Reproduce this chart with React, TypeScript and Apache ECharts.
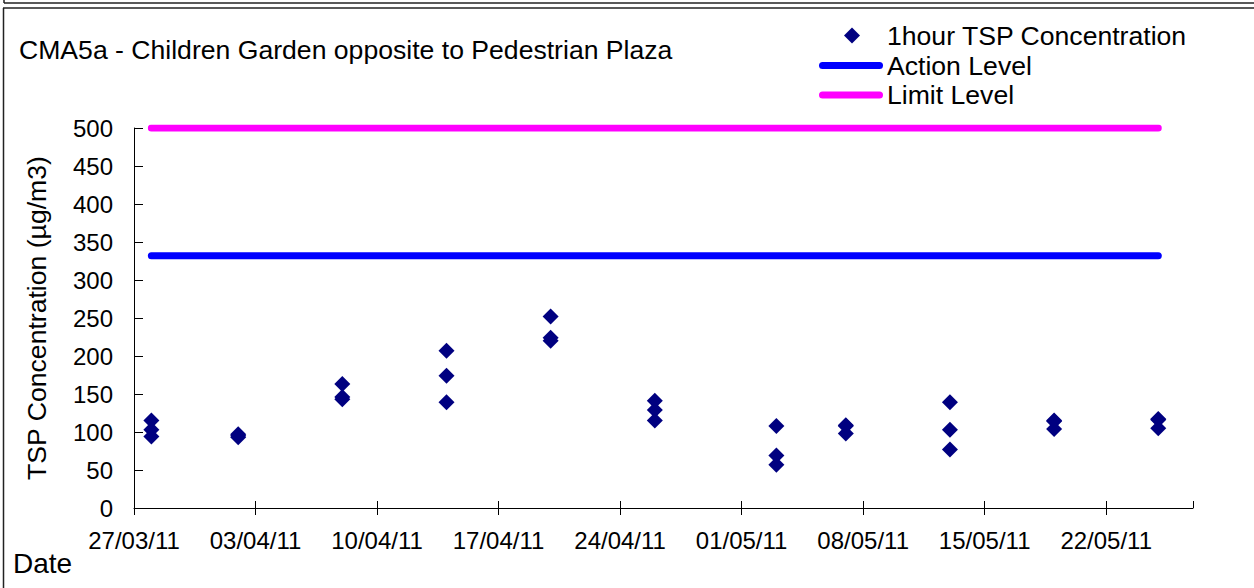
import React, { useEffect, useRef } from "react";
import * as echarts from "echarts";

const baseDate = "2011-03-27";
const sampleDates = [
  "2011-03-28", "2011-03-28", "2011-03-28",
  "2011-04-02", "2011-04-02", "2011-04-02",
  "2011-04-08", "2011-04-08", "2011-04-08",
  "2011-04-14", "2011-04-14", "2011-04-14",
  "2011-04-20", "2011-04-20", "2011-04-20",
  "2011-04-26", "2011-04-26", "2011-04-26",
  "2011-05-03", "2011-05-03", "2011-05-03",
  "2011-05-07", "2011-05-07", "2011-05-07",
  "2011-05-13", "2011-05-13", "2011-05-13",
  "2011-05-19", "2011-05-19", "2011-05-19",
  "2011-05-25", "2011-05-25", "2011-05-25",
];
const tspValues = [
  115, 103, 94,
  97, 95, 93,
  163, 146, 143,
  207, 174, 139,
  252, 224, 220,
  141, 129, 115,
  108, 69, 57,
  109, 108, 98,
  139, 103, 77,
  115, 114, 104,
  117, 116, 105,
];
const levelDates = ["2011-03-28", "2011-05-25"];
const actionLevel = [332, 332];
const limitLevel = [500, 500];
const axisEndDate = "2011-05-27";

const dayMs = 86400000;
const toDay = (s: string) => {
  const [y, m, d] = s.split("-").map(Number);
  const [by, bm, bd] = baseDate.split("-").map(Number);
  return Math.round((Date.UTC(y, m - 1, d) - Date.UTC(by, bm - 1, bd)) / dayMs);
};
const fmtDay = (v: number) => {
  const [by, bm, bd] = baseDate.split("-").map(Number);
  const dt = new Date(Date.UTC(by, bm - 1, bd) + v * dayMs);
  const dd = String(dt.getUTCDate()).padStart(2, "0");
  const mm = String(dt.getUTCMonth() + 1).padStart(2, "0");
  const yy = String(dt.getUTCFullYear() % 100).padStart(2, "0");
  return `${dd}/${mm}/${yy}`;
};

const FONT = "'Liberation Sans', Arial, sans-serif";
const CAPSULE = "path://M3.5,0 L60.5,0 A3.5,3.5 0 0 1 60.5,7 L3.5,7 A3.5,3.5 0 0 1 3.5,0 Z";

export default function App() {
  const ref = useRef<HTMLDivElement>(null);
  useEffect(() => {
    if (!ref.current) return;
    const chart = echarts.init(ref.current, null, { renderer: "svg" });
    const xMax = toDay(axisEndDate);
    const scatterData = sampleDates.map((d, i) => [toDay(d), tspValues[i]]);
    const actionData = levelDates.map((d, i) => [toDay(d), actionLevel[i]]);
    const limitData = levelDates.map((d, i) => [toDay(d), limitLevel[i]]);
    const axisCommon = {
      type: "value" as const,
      min: 0,
      max: xMax,
      interval: 7,
    };
    chart.setOption({
      animation: false,
      backgroundColor: "#ffffff",
      textStyle: { fontFamily: FONT, color: "#000" },
      title: {
        text: "CMA5a - Children Garden opposite to Pedestrian Plaza",
        left: 19,
        top: 36,
        padding: 0,
        textStyle: { fontFamily: FONT, fontSize: 26.6, fontWeight: "normal", color: "#000" },
      },
      legend: [
        {
          orient: "vertical",
          left: 844,
          top: 22,
          padding: 0,
          itemWidth: 16,
          itemHeight: 16,
          data: [{ name: "1hour TSP Concentration", icon: "diamond", itemStyle: { color: "#000080", opacity: 1 } }],
          textStyle: { fontFamily: FONT, fontSize: 26.6, color: "#000", lineHeight: 26, padding: [0, 0, 0, 22] },
        },
        {
          orient: "vertical",
          left: 819,
          top: 52,
          padding: 0,
          itemWidth: 64,
          itemHeight: 7,
          itemGap: 2.5,
          data: [
            { name: "Action Level", icon: CAPSULE, itemStyle: { color: "#0000ff" } },
            { name: "Limit Level", icon: CAPSULE, itemStyle: { color: "#ff00ff" } },
          ],
          textStyle: { fontFamily: FONT, fontSize: 26.6, color: "#000", lineHeight: 26, padding: [0, 0, 0, -1] },
        },
      ],
      grid: { left: 134, right: 61, top: 128, bottom: 80, containLabel: false },
      xAxis: [
        {
          ...axisCommon,
          position: "bottom",
          axisLine: { show: true, onZero: false, lineStyle: { color: "#000", width: 1 } },
          axisTick: { show: true, inside: false, length: 7, lineStyle: { color: "#000" } },
          splitLine: { show: false },
          axisLabel: {
            fontFamily: FONT,
            fontSize: 24,
            color: "#000",
            margin: 20,
            formatter: (v: number) => fmtDay(v),
          },
        },
        {
          ...axisCommon,
          position: "bottom",
          axisLine: { show: false },
          axisTick: { show: true, inside: true, length: 7, lineStyle: { color: "#000" } },
          splitLine: { show: false },
          axisLabel: { show: false },
        },
      ],
      yAxis: {
        type: "value",
        min: 0,
        max: 500,
        interval: 50,
        name: "TSP Concentration (µg/m3)",
        nameLocation: "middle",
        nameGap: 84,
        nameTextStyle: { fontFamily: FONT, fontSize: 26.6, color: "#000" },
        axisLine: { show: true, lineStyle: { color: "#000", width: 1 } },
        axisTick: { show: true, inside: true, length: 9, lineStyle: { color: "#000" } },
        splitLine: { show: false },
        axisLabel: { fontFamily: FONT, fontSize: 24, color: "#000", margin: 21 },
      },
      series: [
        {
          name: "1hour TSP Concentration",
          type: "scatter",
          symbol: "diamond",
          symbolSize: 16,
          itemStyle: { color: "#000080", opacity: 1 },
          data: scatterData,
          z: 5,
        },
        {
          name: "Action Level",
          type: "line",
          symbol: "none",
          showSymbol: false,
          lineStyle: { color: "#0000ff", width: 7, cap: "round" },
          itemStyle: { color: "#0000ff" },
          data: actionData,
        },
        {
          name: "Limit Level",
          type: "line",
          symbol: "none",
          showSymbol: false,
          lineStyle: { color: "#ff00ff", width: 7, cap: "round" },
          itemStyle: { color: "#ff00ff" },
          data: limitData,
        },
      ],
      graphic: [
        {
          type: "text",
          left: 13,
          top: 549,
          style: { text: "Date", fontFamily: FONT, fontSize: 28, fill: "#000" },
        },
        { type: "line", shape: { x1: 4, y1: 3, x2: 1254, y2: 3 }, style: { stroke: "#222", lineWidth: 1.5 } },
        { type: "line", shape: { x1: 4, y1: 0, x2: 4, y2: 3 }, style: { stroke: "#222", lineWidth: 1.5 } },
        { type: "line", shape: { x1: 3, y1: 8, x2: 1254, y2: 8 }, style: { stroke: "#222", lineWidth: 1.5 } },
        { type: "line", shape: { x1: 3.5, y1: 8, x2: 3.5, y2: 588 }, style: { stroke: "#222", lineWidth: 1.5 } },
      ],
    });
    return () => chart.dispose();
  }, []);
  return (
    <div
      ref={ref}
      style={{ position: "fixed", left: 0, top: 0, width: 1254, height: 588, background: "#fff" }}
    />
  );
}
